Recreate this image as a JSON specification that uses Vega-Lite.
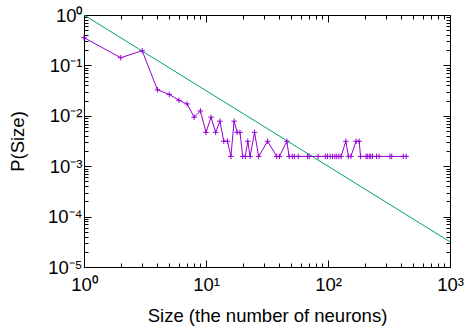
{
  "$schema": "https://vega.github.io/schema/vega-lite/v6.json",
  "width": 366,
  "height": 252,
  "autosize": {"type": "none"},
  "padding": {"left": 84, "top": 15, "right": 17, "bottom": 69},
  "background": "white",
  "config": {
    "view": {"stroke": "black", "strokeWidth": 1},
    "font": "Liberation Sans",
    "axis": {
      "domainColor": "black",
      "tickColor": "black",
      "grid": false,
      "labelFont": "Liberation Sans",
      "titleFont": "Liberation Sans",
      "labelFontSize": 18.5,
      "titleFontSize": 18.5,
      "labelColor": "black",
      "titleColor": "black",
      "titleFontWeight": "normal"
    }
  },
  "datasets": {
    "sizes": [
      {"x": 1, "p": 0.3547},
      {"x": 2, "p": 0.1422},
      {"x": 3, "p": 0.1953},
      {"x": 4, "p": 0.03281},
      {"x": 5, "p": 0.02656},
      {"x": 6, "p": 0.02031},
      {"x": 7, "p": 0.01719},
      {"x": 8, "p": 0.009375},
      {"x": 9, "p": 0.0125},
      {"x": 10, "p": 0.004688},
      {"x": 11, "p": 0.009375},
      {"x": 12, "p": 0.004688},
      {"x": 13, "p": 0.007813},
      {"x": 14, "p": 0.003125},
      {"x": 15, "p": 0.003125},
      {"x": 16, "p": 0.0015625},
      {"x": 17, "p": 0.007813},
      {"x": 18, "p": 0.004688},
      {"x": 19, "p": 0.004688},
      {"x": 20, "p": 0.0015625},
      {"x": 21, "p": 0.0015625},
      {"x": 22, "p": 0.003125},
      {"x": 23, "p": 0.0015625},
      {"x": 25, "p": 0.004688},
      {"x": 27, "p": 0.0015625},
      {"x": 32, "p": 0.003125},
      {"x": 38, "p": 0.0015625},
      {"x": 40, "p": 0.0015625},
      {"x": 46, "p": 0.003125},
      {"x": 48, "p": 0.0015625},
      {"x": 51, "p": 0.0015625},
      {"x": 53, "p": 0.0015625},
      {"x": 57, "p": 0.0015625},
      {"x": 68, "p": 0.0015625},
      {"x": 70, "p": 0.0015625},
      {"x": 83, "p": 0.0015625},
      {"x": 95, "p": 0.0015625},
      {"x": 99, "p": 0.0015625},
      {"x": 104, "p": 0.0015625},
      {"x": 109, "p": 0.0015625},
      {"x": 114, "p": 0.0015625},
      {"x": 118, "p": 0.0015625},
      {"x": 123, "p": 0.0015625},
      {"x": 128, "p": 0.0015625},
      {"x": 140, "p": 0.003125},
      {"x": 147, "p": 0.0015625},
      {"x": 154, "p": 0.0015625},
      {"x": 170, "p": 0.003125},
      {"x": 180, "p": 0.003125},
      {"x": 185, "p": 0.0015625},
      {"x": 205, "p": 0.0015625},
      {"x": 210, "p": 0.0015625},
      {"x": 218, "p": 0.0015625},
      {"x": 224, "p": 0.0015625},
      {"x": 232, "p": 0.0015625},
      {"x": 250, "p": 0.0015625},
      {"x": 262, "p": 0.0015625},
      {"x": 322, "p": 0.0015625},
      {"x": 333, "p": 0.0015625},
      {"x": 414, "p": 0.0015625},
      {"x": 437, "p": 0.0015625}
    ],
    "fit": [
      {"x": 1, "p": 1},
      {"x": 1000, "p": 0.0000316}
    ]
  },
  "resolve": {"axis": {"x": "independent", "y": "independent"}},
  "layer": [
    {
      "data": {"name": "fit"},
      "mark": {"type": "line", "color": "#009e73", "strokeWidth": 1, "clip": true},
      "encoding": {
        "x": {
          "field": "x", "type": "quantitative",
          "scale": {"type": "log", "domain": [1, 1000], "nice": false},
          "axis": {
            "orient": "bottom",
            "values": [1,2,3,4,5,6,7,8,9,10,20,30,40,50,60,70,80,90,100,200,300,400,500,600,700,800,900,1000],
            "labelExpr": "abs(log(datum.value)/LN10 - round(log(datum.value)/LN10)) < 0.001 ? '10' + ['⁰','¹','²','³'][round(log(datum.value)/LN10)] : ''",
            "tickSize": {"condition": {"test": "abs(log(datum.value)/LN10 - round(log(datum.value)/LN10)) < 0.001", "value": -7}, "value": -4},
            "labelPadding": 15,
            "labelFlush": false,
            "labelOverlap": false,
            "title": "Size (the number of neurons)",
            "titlePadding": 10
          }
        },
        "y": {
          "field": "p", "type": "quantitative",
          "scale": {"type": "log", "domain": [0.00001, 1], "nice": false},
          "axis": {
            "orient": "left",
            "values": [0.00001,0.00002,0.00003,0.00004,0.00005,0.00006,0.00007,0.00008,0.00009,0.0001,0.0002,0.0003,0.0004,0.0005,0.0006,0.0007,0.0008,0.0009,0.001,0.002,0.003,0.004,0.005,0.006,0.007,0.008,0.009,0.01,0.02,0.03,0.04,0.05,0.06,0.07,0.08,0.09,0.1,0.2,0.3,0.4,0.5,0.6,0.7,0.8,0.9,1],
            "labelExpr": "abs(log(datum.value)/LN10 - round(log(datum.value)/LN10)) < 0.001 ? '10' + ['⁰','⁻¹','⁻²','⁻³','⁻⁴','⁻⁵'][round(-log(datum.value)/LN10)] : ''",
            "tickSize": {"condition": {"test": "abs(log(datum.value)/LN10 - round(log(datum.value)/LN10)) < 0.001", "value": -7}, "value": -4},
            "labelPadding": 9,
            "labelFlush": false,
            "labelOverlap": false,
            "title": "P(Size)",
            "titlePadding": 20
          }
        }
      }
    },
    {
      "data": {"name": "sizes"},
      "mark": {"type": "line", "color": "#9400d3", "strokeWidth": 1},
      "encoding": {
        "x": {
          "field": "x", "type": "quantitative",
          "scale": {"type": "log", "domain": [1, 1000], "nice": false},
          "axis": {
            "orient": "top",
            "values": [1,2,3,4,5,6,7,8,9,10,20,30,40,50,60,70,80,90,100,200,300,400,500,600,700,800,900,1000],
            "labels": false,
            "tickSize": {"condition": {"test": "abs(log(datum.value)/LN10 - round(log(datum.value)/LN10)) < 0.001", "value": -7}, "value": -4},
            "title": null
          }
        },
        "y": {
          "field": "p", "type": "quantitative",
          "scale": {"type": "log", "domain": [0.00001, 1], "nice": false},
          "axis": {
            "orient": "right",
            "values": [0.00001,0.00002,0.00003,0.00004,0.00005,0.00006,0.00007,0.00008,0.00009,0.0001,0.0002,0.0003,0.0004,0.0005,0.0006,0.0007,0.0008,0.0009,0.001,0.002,0.003,0.004,0.005,0.006,0.007,0.008,0.009,0.01,0.02,0.03,0.04,0.05,0.06,0.07,0.08,0.09,0.1,0.2,0.3,0.4,0.5,0.6,0.7,0.8,0.9,1],
            "labels": false,
            "tickSize": {"condition": {"test": "abs(log(datum.value)/LN10 - round(log(datum.value)/LN10)) < 0.001", "value": -7}, "value": -4},
            "title": null
          }
        }
      }
    },
    {
      "data": {"name": "sizes"},
      "mark": {"type": "point", "shape": "M-1,0H1M0,-1V1", "filled": false, "color": "#9400d3", "size": 30, "strokeWidth": 1, "opacity": 1},
      "encoding": {
        "x": {"field": "x", "type": "quantitative", "scale": {"type": "log", "domain": [1, 1000], "nice": false}, "axis": null},
        "y": {"field": "p", "type": "quantitative", "scale": {"type": "log", "domain": [0.00001, 1], "nice": false}, "axis": null}
      }
    }
  ]
}
